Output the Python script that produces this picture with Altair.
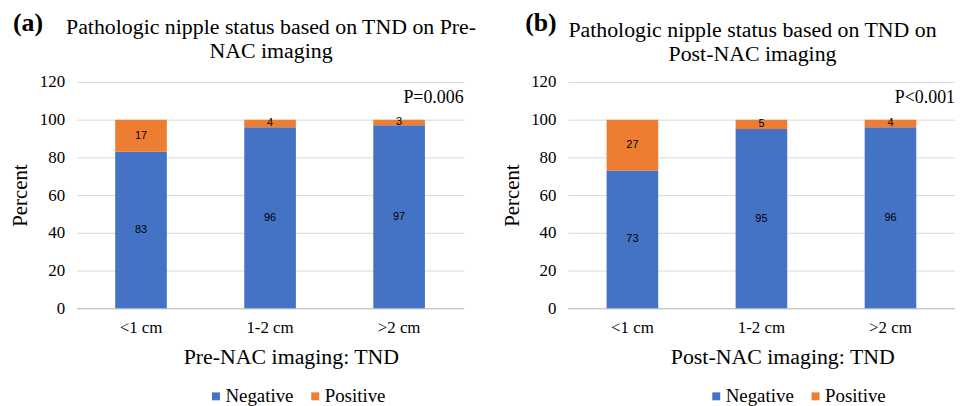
import altair as alt
import pandas as pd

categories = ["<1 cm", "1-2 cm", ">2 cm"]
series = ["Negative", "Positive"]
pre_negative = [83, 96, 97]
pre_positive = [17, 4, 3]
post_negative = [73, 95, 96]
post_positive = [27, 5, 4]
y_ticks = [0, 20, 40, 60, 80, 100, 120]

SERIF = "Liberation Serif"
BLUE = "#4472C4"
ORANGE = "#ED7D31"


def make_df(neg, pos):
    rows = []
    for c, n, p in zip(categories, neg, pos):
        rows.append({"cat": c, "status": series[0], "value": n, "ord": 0})
        rows.append({"cat": c, "status": series[1], "value": p, "ord": 1})
    return pd.DataFrame(rows)


def panel(neg, pos, title_lines, title_x, title_y, letter, letter_x, xtitle, ptext, legend_x):
    df = make_df(neg, pos)
    base = alt.Chart(df).transform_stack(
        stack="value", groupby=["cat"], as_=["y0", "y1"],
        sort=[alt.SortField("ord", order="ascending")]
    ).transform_calculate(mid="(datum.y0 + datum.y1) / 2")

    x_axis = alt.Axis(title=xtitle, labelAngle=0, ticks=False, grid=False,
                      domainColor="#bfbfbf", labelPadding=11,
                      titleX=216, titleY=56, titleBaseline="alphabetic", titleAlign="center")
    y_axis = alt.Axis(values=y_ticks, title="Percent", grid=True, gridColor="#d9d9d9",
                      domain=False, ticks=False, labelPadding=12,
                      titleX=-56, titleY=114, titleAlign="center", titleBaseline="middle")
    x_scale = alt.Scale(paddingInner=0.6, paddingOuter=0.3)
    y_scale = alt.Scale(domain=[0, 120], nice=False)

    bars = base.mark_bar().encode(
        x=alt.X("cat:N", sort=categories, scale=x_scale, axis=x_axis),
        y=alt.Y("y0:Q", scale=y_scale, axis=y_axis),
        y2="y1:Q",
        color=alt.Color("status:N", scale=alt.Scale(domain=series, range=[BLUE, ORANGE]),
                        legend=alt.Legend(title=None, orient="none", legendX=legend_x, legendY=307,
                                          direction="horizontal", symbolType="square",
                                          symbolSize=64, symbolStrokeWidth=0,
                                          labelFont=SERIF, labelFontSize=19, labelColor="black",
                                          labelOffset=0, columnPadding=12)),
    )
    labels = base.mark_text(font="Liberation Sans", fontSize=11, color="black").encode(
        x=alt.X("cat:N", sort=categories, scale=x_scale, axis=x_axis),
        y=alt.Y("mid:Q", scale=y_scale, axis=y_axis),
        text="value:Q",
    )
    letter_mark = alt.Chart(pd.DataFrame({"t": [letter]})).mark_text(
        font=SERIF, fontSize=26, fontWeight="bold", align="left", baseline="alphabetic",
        color="black"
    ).encode(x=alt.value(letter_x), y=alt.value(-51), text="t:N")
    p_mark = alt.Chart(pd.DataFrame({"t": [ptext]})).mark_text(
        font=SERIF, fontSize=18, align="right", baseline="alphabetic", color="black"
    ).encode(x=alt.value(390), y=alt.value(21), text="t:N")
    t1 = alt.Chart(pd.DataFrame({"t": [title_lines[0]]})).mark_text(
        font=SERIF, fontSize=22, align="center", baseline="alphabetic", color="black"
    ).encode(x=alt.value(title_x), y=alt.value(title_y), text="t:N")
    t2 = alt.Chart(pd.DataFrame({"t": [title_lines[1]]})).mark_text(
        font=SERIF, fontSize=22, align="center", baseline="alphabetic", color="black"
    ).encode(x=alt.value(title_x), y=alt.value(title_y + 24), text="t:N")

    return alt.layer(bars, labels, letter_mark, p_mark, t1, t2).properties(
        width=390, height=228,
    )


left = panel(pre_negative, pre_positive,
             ["Pathologic nipple status based on TND on Pre-", "NAC imaging"], 196, -48,
             "(a)", -64, "Pre-NAC imaging: TND", "P=0.006", 131)
right = panel(post_negative, post_positive,
              ["Pathologic nipple status based on TND on", "Post-NAC imaging"], 186, -45,
              "(b)", -43, "Post-NAC imaging: TND", "P<0.001", 140)

chart = alt.hconcat(left, right, spacing=25).resolve_legend(color="independent").properties(
    padding={"left": 2, "top": 1, "right": 0, "bottom": 0}
).configure_view(stroke=None).configure_axis(
    labelFont=SERIF, labelFontSize=17, labelColor="black",
    titleFont=SERIF, titleFontWeight="normal", titleColor="black",
).configure_axisX(titleFontSize=22).configure_axisY(titleFontSize=21)

chart.save("out.html", embed_options={"renderer": "svg", "actions": False})
